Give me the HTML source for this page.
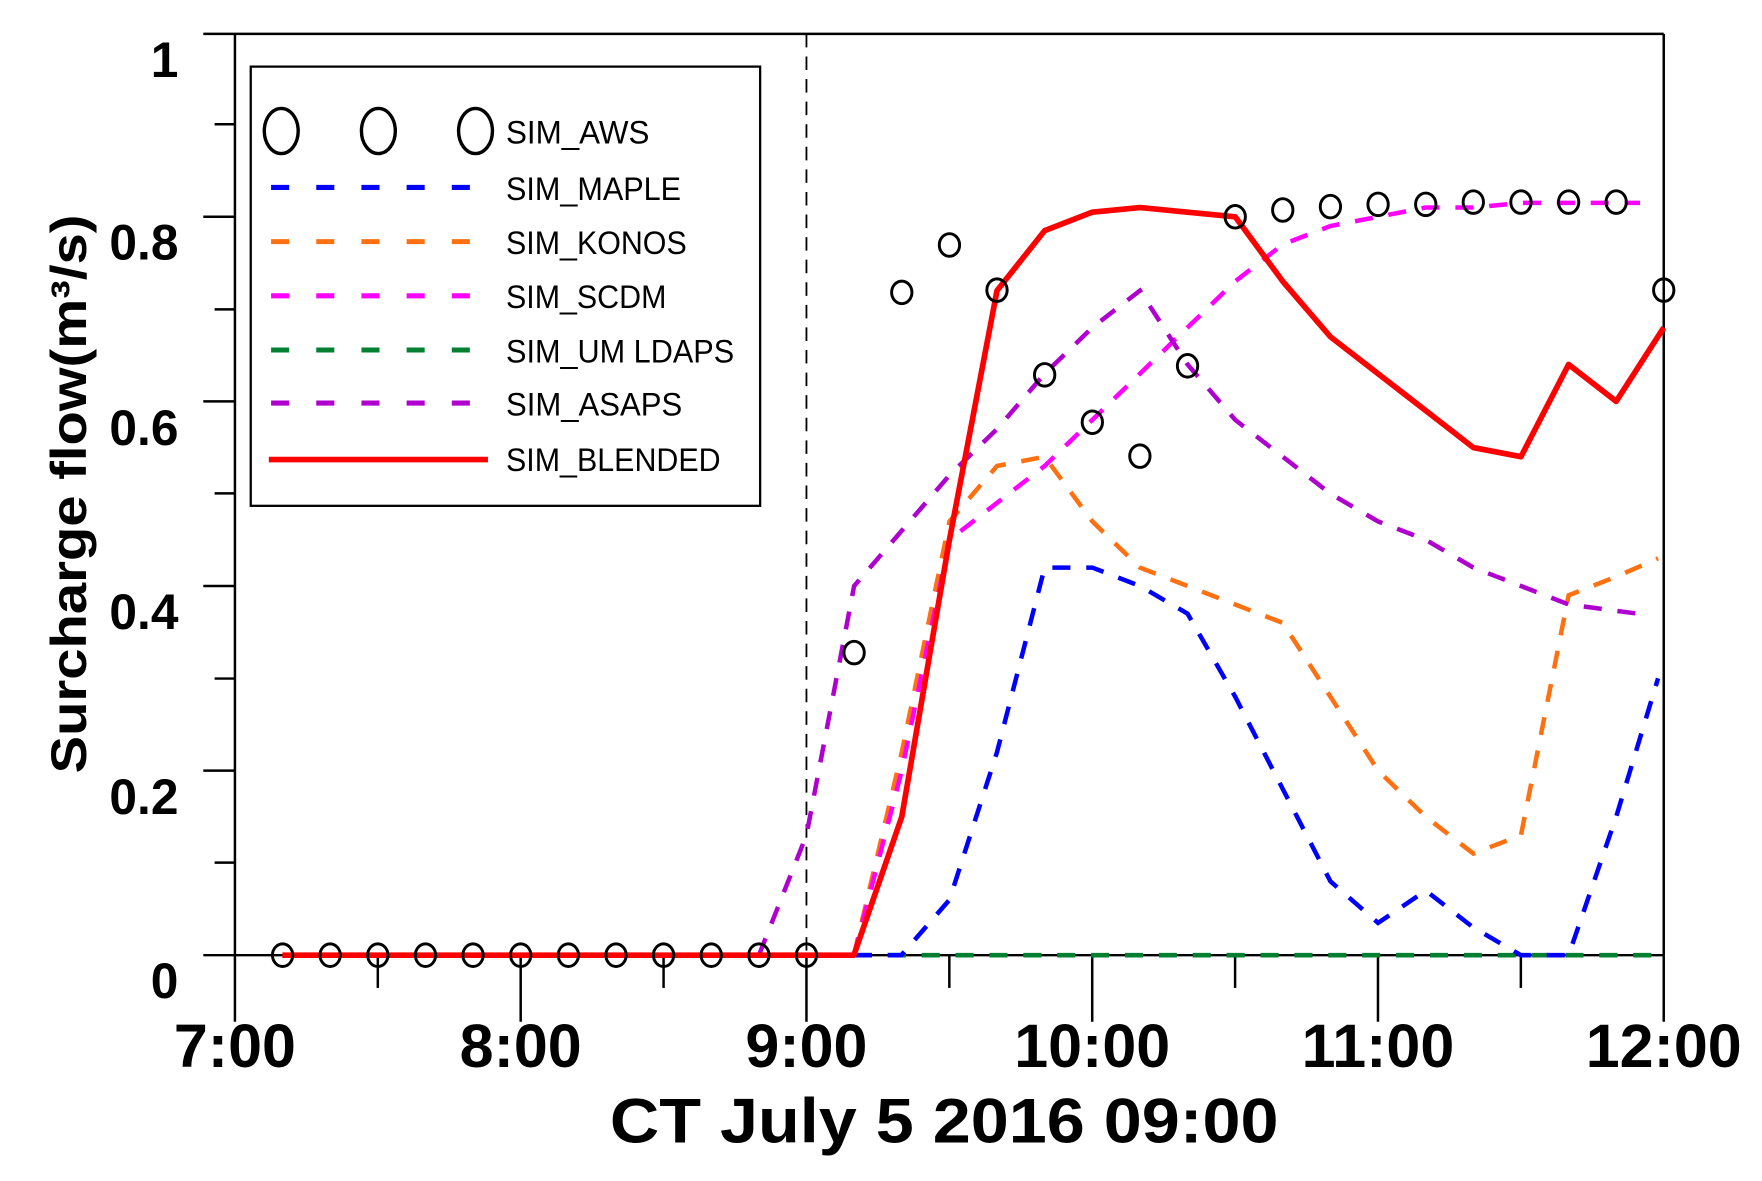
<!DOCTYPE html>
<html><head><meta charset="utf-8"><style>
html,body{margin:0;padding:0;background:#fff;}
svg{display:block;}
text{font-family:"Liberation Sans",Arial,sans-serif;}
</style></head><body>
<svg width="1762" height="1181" viewBox="0 0 1560 1046" preserveAspectRatio="none" xmlns="http://www.w3.org/2000/svg">
<rect width="1560" height="1046" fill="#fff"/>
<g stroke="#000" stroke-width="2.2" fill="none">
<line x1="180" y1="30" x2="1473" y2="30"/>
<line x1="1473" y1="30" x2="1473" y2="846"/>
<line x1="208" y1="30" x2="208" y2="905"/>
<line x1="180" y1="846" x2="1473" y2="846"/>
<line x1="180" y1="192" x2="208" y2="192"/>
<line x1="180" y1="355.5" x2="208" y2="355.5"/>
<line x1="180" y1="519" x2="208" y2="519"/>
<line x1="180" y1="682.5" x2="208" y2="682.5"/>
<line x1="190" y1="110" x2="208" y2="110"/>
<line x1="190" y1="274" x2="208" y2="274"/>
<line x1="190" y1="437" x2="208" y2="437"/>
<line x1="190" y1="601" x2="208" y2="601"/>
<line x1="190" y1="764" x2="208" y2="764"/>
<line x1="461" y1="846" x2="461" y2="905"/>
<line x1="714" y1="846" x2="714" y2="905"/>
<line x1="967" y1="846" x2="967" y2="905"/>
<line x1="1220" y1="846" x2="1220" y2="905"/>
<line x1="1473" y1="846" x2="1473" y2="905"/>
<line x1="334.5" y1="846" x2="334.5" y2="875"/>
<line x1="587.5" y1="846" x2="587.5" y2="875"/>
<line x1="840.5" y1="846" x2="840.5" y2="875"/>
<line x1="1093.5" y1="846" x2="1093.5" y2="875"/>
<line x1="1346.5" y1="846" x2="1346.5" y2="875"/>
</g>
<line x1="714" y1="30" x2="714" y2="846" stroke="#000" stroke-width="1.6" stroke-dasharray="12,8"/>
<g fill="none" stroke-width="4" stroke-dasharray="16,14">
<polyline stroke="#008030" points="756,846 1473,846"/>
<polyline stroke="#0000ff" points="756,846 798,846 840.6,797 882.7,666.2 924.9,502.7 967.1,502.7 1009.2,519 1051.4,543.5 1093.6,617.1 1135.7,698.8 1177.9,780.6 1220.1,817.4 1262.3,788.8 1304.4,821.5 1346.6,846 1388.8,846 1430.9,723.4 1468,600.8"/>
<polyline stroke="#ff7010" points="756,846 798.4,666.2 840.6,461.8 882.7,412.7 924.9,404.5 967.1,461.8 1009.2,502.7 1051.4,519 1093.6,535.4 1135.7,551.7 1177.9,617.1 1220.1,682.5 1262.3,723.4 1304.4,756 1346.6,739.7 1388.8,527.2 1430.9,510.8 1468,494.5"/>
<polyline stroke="#ff00ff" points="756,846 798.4,682.5 840.6,478.1 882.7,445.4 924.9,412.7 967.1,371.9 1009.2,331 1051.4,290.1 1093.6,249.2 1135.7,216.5 1177.9,200.2 1220.1,192 1262.3,183.8 1304.4,183.8 1346.6,179.7 1388.8,179.7 1452,179.7"/>
<polyline stroke="#b000d0" points="671.9,846 714,739.7 756.2,519 798.4,470 840.6,420.9 882.7,380 924.9,331 967.1,290.1 1009.2,257.4 1051.4,322.8 1093.6,371.9 1135.7,404.5 1177.9,437.3 1220.1,461.8 1262.3,478.1 1304.4,502.7 1346.6,519 1388.8,535.4 1450,543.5"/>
</g>
<polyline fill="none" stroke="#ff0000" stroke-width="5" stroke-linejoin="round" points="250,846 756,846 798.4,723.4 840.6,478.1 882.7,257.4 924.9,204.3 967.1,187.9 1009.2,183.8 1051.4,187.9 1093.6,192 1135.7,249.2 1177.9,298.3 1220.1,331 1262.3,363.7 1304.4,396.4 1346.6,404.5 1388.8,322.8 1430.9,355.5 1473,290.1"/>
<g fill="none" stroke="#000" stroke-width="2.6">
<ellipse cx="250.2" cy="846" rx="9" ry="10"/><ellipse cx="292.3" cy="846" rx="9" ry="10"/><ellipse cx="334.5" cy="846" rx="9" ry="10"/><ellipse cx="376.7" cy="846" rx="9" ry="10"/><ellipse cx="418.8" cy="846" rx="9" ry="10"/><ellipse cx="461" cy="846" rx="9" ry="10"/><ellipse cx="503.2" cy="846" rx="9" ry="10"/><ellipse cx="545.4" cy="846" rx="9" ry="10"/><ellipse cx="587.5" cy="846" rx="9" ry="10"/><ellipse cx="629.7" cy="846" rx="9" ry="10"/><ellipse cx="671.9" cy="846" rx="9" ry="10"/><ellipse cx="714" cy="846" rx="9" ry="10"/>
<ellipse cx="756.2" cy="578" rx="9" ry="10"/><ellipse cx="798.4" cy="259" rx="9" ry="10"/><ellipse cx="840.6" cy="217" rx="9" ry="10"/><ellipse cx="882.7" cy="257" rx="9" ry="10"/><ellipse cx="924.9" cy="332" rx="9" ry="10"/><ellipse cx="967.1" cy="374" rx="9" ry="10"/><ellipse cx="1009.2" cy="404" rx="9" ry="10"/><ellipse cx="1051.4" cy="324" rx="9" ry="10"/><ellipse cx="1093.6" cy="192" rx="9" ry="10"/><ellipse cx="1135.7" cy="186" rx="9" ry="10"/><ellipse cx="1177.9" cy="183" rx="9" ry="10"/><ellipse cx="1220.1" cy="181" rx="9" ry="10"/><ellipse cx="1262.3" cy="181" rx="9" ry="10"/><ellipse cx="1304.4" cy="179" rx="9" ry="10"/><ellipse cx="1346.6" cy="179" rx="9" ry="10"/><ellipse cx="1388.8" cy="179" rx="9" ry="10"/><ellipse cx="1430.9" cy="179" rx="9" ry="10"/><ellipse cx="1473" cy="257" rx="9" ry="10"/>
</g>
<rect x="222" y="59" width="451" height="389" fill="#fff" stroke="#000" stroke-width="2"/>
<g fill="none" stroke="#000" stroke-width="3">
<ellipse cx="249" cy="116" rx="15" ry="20"/><ellipse cx="335" cy="116" rx="15" ry="20"/><ellipse cx="421" cy="116" rx="15" ry="20"/>
</g>
<g stroke-width="4.5" stroke-dasharray="16,24">
<line x1="240" y1="166" x2="425" y2="166" stroke="#0000ff"/>
<line x1="240" y1="214" x2="425" y2="214" stroke="#ff7010"/>
<line x1="240" y1="262" x2="425" y2="262" stroke="#ff00ff"/>
<line x1="240" y1="310" x2="425" y2="310" stroke="#008030"/>
<line x1="240" y1="357" x2="425" y2="357" stroke="#b000d0"/>
</g>
<line x1="238" y1="407" x2="432" y2="407" stroke="#ff0000" stroke-width="5"/>
<g font-size="29" fill="#000">
<text x="448" y="127" textLength="127" lengthAdjust="spacingAndGlyphs">SIM_AWS</text>
<text x="448" y="177" textLength="155" lengthAdjust="spacingAndGlyphs">SIM_MAPLE</text>
<text x="448" y="225" textLength="160" lengthAdjust="spacingAndGlyphs">SIM_KONOS</text>
<text x="448" y="273" textLength="142" lengthAdjust="spacingAndGlyphs">SIM_SCDM</text>
<text x="448" y="321" textLength="202" lengthAdjust="spacingAndGlyphs">SIM_UM LDAPS</text>
<text x="448" y="368" textLength="156" lengthAdjust="spacingAndGlyphs">SIM_ASAPS</text>
<text x="448" y="417" textLength="190" lengthAdjust="spacingAndGlyphs">SIM_BLENDED</text>
</g>
<g font-size="44" font-weight="bold" text-anchor="end" fill="#000">
<text x="158" y="68">1</text>
<text x="158" y="230">0.8</text>
<text x="158" y="394">0.6</text>
<text x="158" y="557">0.4</text>
<text x="158" y="721">0.2</text>
<text x="158" y="884">0</text>
</g>
<g font-size="54" font-weight="bold" text-anchor="middle" fill="#000">
<text x="208" y="945">7:00</text>
<text x="461" y="945">8:00</text>
<text x="714" y="945">9:00</text>
<text x="967" y="945">10:00</text>
<text x="1220" y="945">11:00</text>
<text x="1473" y="945">12:00</text>
</g>
<text x="540" y="1012" font-size="56" font-weight="bold" fill="#000" textLength="592" lengthAdjust="spacingAndGlyphs">CT July 5 2016 09:00</text>
<text transform="translate(76,685) rotate(-90)" font-size="44" font-weight="bold" fill="#000" textLength="495" lengthAdjust="spacingAndGlyphs">Surcharge flow(m³/s)</text>
</svg>
</body></html>
